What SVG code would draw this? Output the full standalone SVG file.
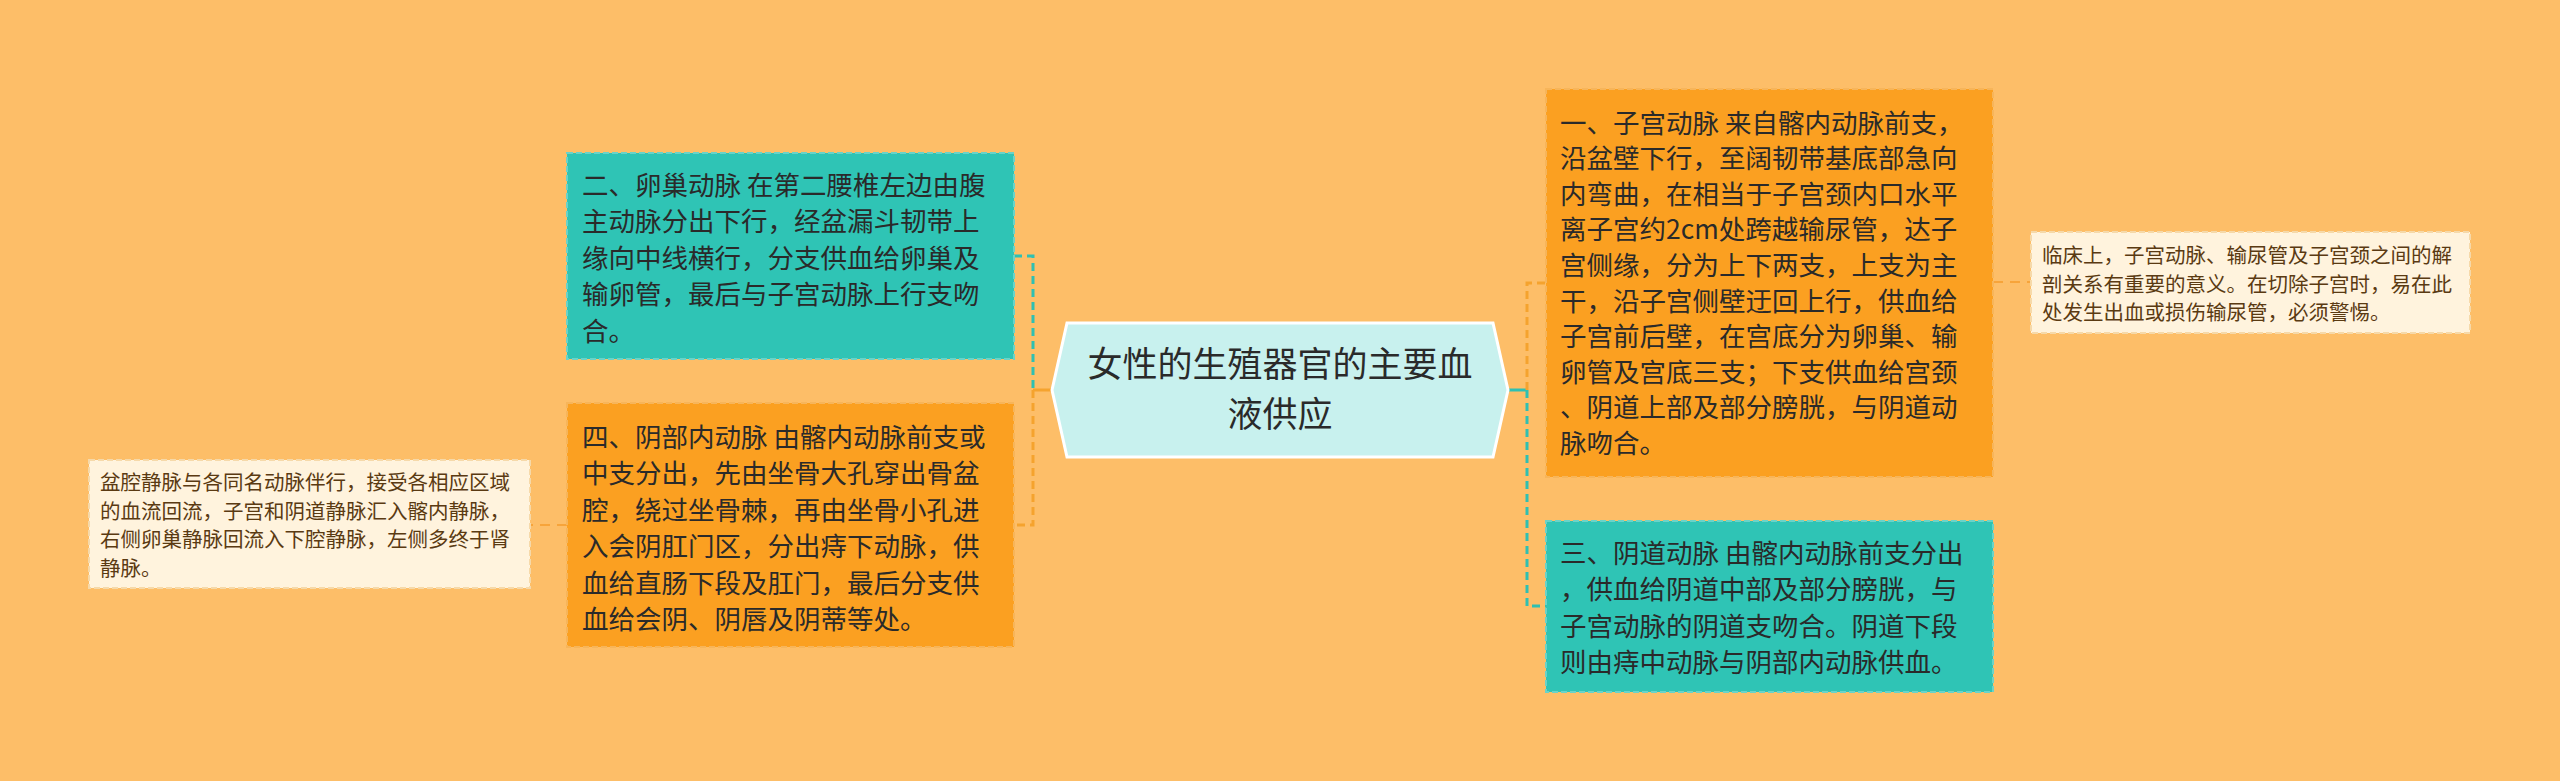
<svg xmlns="http://www.w3.org/2000/svg" width="2560" height="781" viewBox="0 0 2560 781">
<style>
.t{font-family:"Noto Sans CJK SC","Noto Sans",sans-serif;}
.box{font-size:26.5px;fill:#2a2a2a;}
.note{font-size:20.5px;fill:#5a3a12;}
.org{fill:#FBA021;stroke:#F7B55A;stroke-width:2;stroke-dasharray:6,3;}
.teal{fill:#2FC4B5;stroke:#6AD3C8;stroke-width:2;stroke-dasharray:6,3;}
.nt{fill:#FFF3DD;stroke:#F6D9A9;stroke-width:2;stroke-dasharray:6,3;}
.cT{fill:none;stroke:#2FC0B2;stroke-width:3;stroke-dasharray:8,5;}
.cO{fill:none;stroke:#F5A32E;stroke-width:3;stroke-dasharray:8,5;}
.cN{fill:none;stroke:#F7A43A;stroke-width:2;stroke-dasharray:10,7;}
</style>
<rect width="2560" height="781" fill="#FDBE68"/>
<g id="connectors">
<path class="cT" d="M1014 256 H1033 V390"/>
<path class="cO" d="M1033 390 V525 H1014"/>
<path d="M1033 390 H1053" stroke="#F5A32E" stroke-width="3" fill="none"/>
<path d="M1507 390 H1527" stroke="#2FC0B2" stroke-width="3" fill="none"/>
<path class="cO" d="M1527 390 V283 H1546"/>
<path class="cT" d="M1527 390 V606 H1546"/>
<path class="cN" d="M1993 282 H2031"/>
<path class="cN" d="M567 525 H530"/>
</g>
<g id="center">
<polygon points="1052,390 1067,323 1493,323 1508,390 1493,457 1067,457" fill="#C8F1EE" stroke="#FFFFFF" stroke-width="3"/>
<text class="t" font-size="35" fill="#2a2a2a" text-anchor="middle"><tspan x="1280" y="377">女性的生殖器官的主要血</tspan><tspan x="1280" y="427">液供应</tspan></text>
</g>
<g id="n2">
<rect class="teal" x="567" y="153" width="447" height="206"/>
<text class="t box"><tspan x="582" y="194.5">二、卵巢动脉 在第二腰椎左边由腹</tspan><tspan x="582" y="231">主动脉分出下行，经盆漏斗韧带上</tspan><tspan x="582" y="267.5">缘向中线横行，分支供血给卵巢及</tspan><tspan x="582" y="304">输卵管，最后与子宫动脉上行支吻</tspan><tspan x="582" y="340.5">合。</tspan></text>
</g>
<g id="n4">
<rect class="org" x="567" y="403" width="447" height="244"/>
<text class="t box"><tspan x="582" y="446.5">四、阴部内动脉 由髂内动脉前支或</tspan><tspan x="582" y="483">中支分出，先由坐骨大孔穿出骨盆</tspan><tspan x="582" y="519.5">腔，绕过坐骨棘，再由坐骨小孔进</tspan><tspan x="582" y="556">入会阴肛门区，分出痔下动脉，供</tspan><tspan x="582" y="592.5">血给直肠下段及肛门，最后分支供</tspan><tspan x="582" y="629">血给会阴、阴唇及阴蒂等处。</tspan></text>
</g>
<g id="n1">
<rect class="org" x="1546" y="89" width="447" height="388"/>
<text class="t box"><tspan x="1560" y="132.5">一、子宫动脉 来自髂内动脉前支，</tspan><tspan x="1560" y="168.1">沿盆壁下行，至阔韧带基底部急向</tspan><tspan x="1560" y="203.7">内弯曲，在相当于子宫颈内口水平</tspan><tspan x="1560" y="239.3">离子宫约2cm处跨越输尿管，达子</tspan><tspan x="1560" y="274.9">宫侧缘，分为上下两支，上支为主</tspan><tspan x="1560" y="310.5">干，沿子宫侧壁迂回上行，供血给</tspan><tspan x="1560" y="346.1">子宫前后壁，在宫底分为卵巢、输</tspan><tspan x="1560" y="381.7">卵管及宫底三支；下支供血给宫颈</tspan><tspan x="1560" y="417.3">、阴道上部及部分膀胱，与阴道动</tspan><tspan x="1560" y="452.9">脉吻合。</tspan></text>
</g>
<g id="n3">
<rect class="teal" x="1546" y="521" width="447" height="171"/>
<text class="t box"><tspan x="1560" y="562.5">三、阴道动脉 由髂内动脉前支分出</tspan><tspan x="1560" y="599">，供血给阴道中部及部分膀胱，与</tspan><tspan x="1560" y="635.5">子宫动脉的阴道支吻合。阴道下段</tspan><tspan x="1560" y="672">则由痔中动脉与阴部内动脉供血。</tspan></text>
</g>
<g id="noteR">
<rect class="nt" x="2031" y="232" width="439" height="101"/>
<text class="t note"><tspan x="2042" y="263">临床上，子宫动脉、输尿管及子宫颈之间的解</tspan><tspan x="2042" y="291.5">剖关系有重要的意义。在切除子宫时，易在此</tspan><tspan x="2042" y="320">处发生出血或损伤输尿管，必须警惕。</tspan></text>
</g>
<g id="noteL">
<rect class="nt" x="89" y="460" width="441" height="128"/>
<text class="t note"><tspan x="100" y="490">盆腔静脉与各同名动脉伴行，接受各相应区域</tspan><tspan x="100" y="518.5">的血流回流，子宫和阴道静脉汇入髂内静脉，</tspan><tspan x="100" y="547">右侧卵巢静脉回流入下腔静脉，左侧多终于肾</tspan><tspan x="100" y="575.5">静脉。</tspan></text>
</g>
</svg>
